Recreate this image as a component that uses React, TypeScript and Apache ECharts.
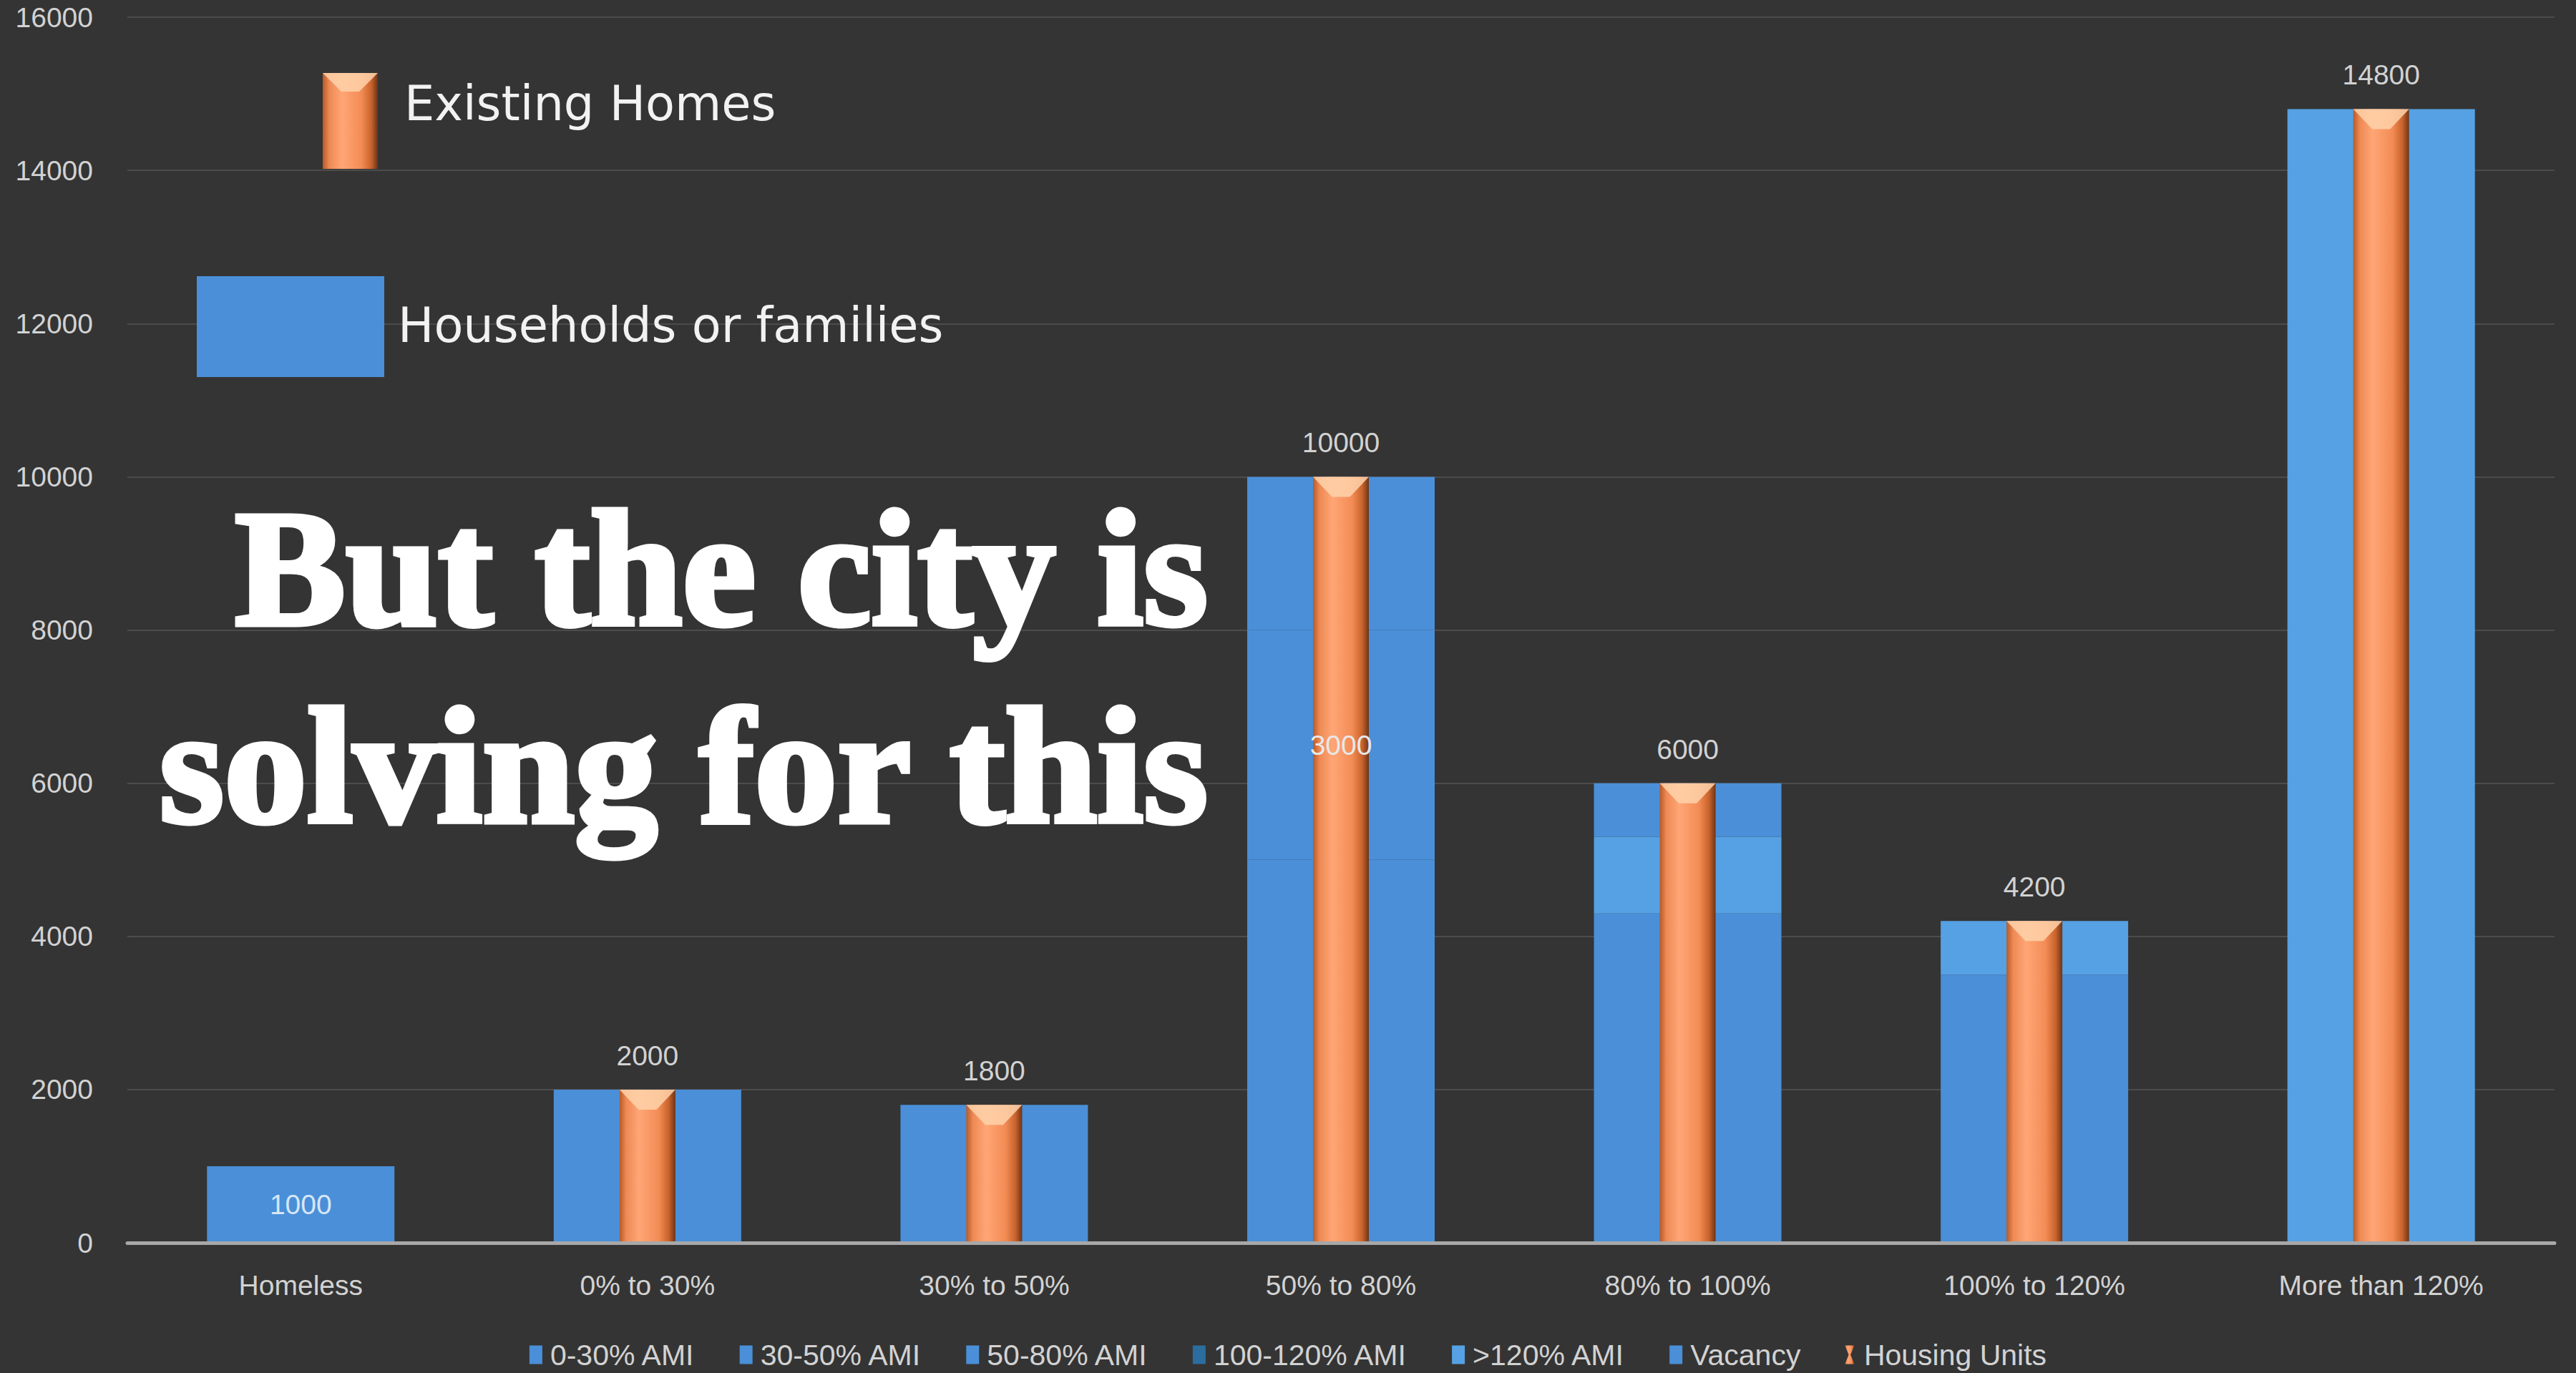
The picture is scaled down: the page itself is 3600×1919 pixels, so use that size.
import React, { useEffect, useRef } from "react";
import * as echarts from "echarts";

const categories = ["Homeless", "0% to 30%", "30% to 50%", "50% to 80%", "80% to 100%", "100% to 120%", "More than 120%"];
const ami0to30 = [1000, 2000, 1800, 5000, 4300, 3500, null];
const ami30to50 = [null, null, null, 3000, null, null, null];
const ami50to80 = [null, null, null, 2000, null, null, null];
const ami100to120 = [null, null, null, null, null, null, null];
const amiOver120 = [null, null, null, null, 1000, 700, 14800];
const vacancy = [null, null, null, null, 700, null, null];
const housingUnits = [null, 2000, 1800, 10000, 6000, 4200, 14800];
const yTicks = { min: 0, max: 16000, interval: 2000 };
const overlayLines = ["But the city is", "solving for this"];

const BG = "#343434";
const BLUE = "#4a8fd8";
const BLUE_LIGHT = "#56a1e3";
const TXT = "#d2d2d2";
const FONT = "'Liberation Sans', Arial, sans-serif";

const orangeGradient = () =>
  new echarts.graphic.LinearGradient(0, 0, 1, 0, [
    { offset: 0, color: "#b85a28" },
    { offset: 0.12, color: "#ee8a55" },
    { offset: 0.35, color: "#ffa676" },
    { offset: 0.7, color: "#f38c55" },
    { offset: 0.88, color: "#c9632c" },
    { offset: 1, color: "#6e3416" },
  ]);

export default function App() {
  const ref = useRef<HTMLDivElement>(null);
  useEffect(() => {
    document.body.style.margin = "0";
    document.body.style.background = BG;
    const chart = echarts.init(ref.current!, null, { renderer: "svg" });

    const blueSeries = (name: string, data: (number | null)[], color: string, labelIdx: number[] = []) => ({
      name,
      type: "bar",
      stack: "hh",
      xAxisIndex: 0,
      barWidth: 262,
      itemStyle: { color },
      data: data.map((v, i) =>
        labelIdx.includes(i) && v != null
          ? { value: v, label: { show: true, position: "inside", color: "#d6e6f6", fontSize: 39, fontFamily: FONT } }
          : v
      ),
    });

    // label for the 30-50% AMI segment, drawn above the orange bar
    const midIdx = ami30to50.findIndex((v) => v != null);
    const segBase = (ami0to30[midIdx] || 0);
    const segVal = ami30to50[midIdx] as number;

    const s30 = blueSeries("30-50% AMI", ami30to50, "#4a8fd8");
    (s30 as any).markPoint = {
      z: 10,
      symbol: "circle",
      symbolSize: 1,
      itemStyle: { color: "rgba(0,0,0,0)" },
      label: { show: true, position: "inside", color: "#e8e8e8", fontSize: 39, fontFamily: FONT, formatter: String(segVal) },
      data: [{ coord: [categories[midIdx], segBase + segVal / 2] }],
    };

    const option: any = {
      animation: false,
      backgroundColor: BG,
      grid: { left: 178, right: 30, top: 24, bottom: 182, containLabel: false },
      xAxis: [
        {
          type: "category",
          data: categories,
          axisLine: { show: true, lineStyle: { color: "#a8a8a8", width: 5 } },
          axisTick: { show: false },
          axisLabel: { color: TXT, fontSize: 39, fontFamily: FONT, margin: 40 },
          z: 5,
        },
        { type: "category", data: categories, show: false },
      ],
      yAxis: {
        type: "value",
        min: yTicks.min,
        max: yTicks.max,
        interval: yTicks.interval,
        axisLine: { show: false },
        axisTick: { show: false },
        axisLabel: { color: TXT, fontSize: 39, fontFamily: FONT, margin: 48, formatter: (v: number) => String(v) },
        splitLine: { lineStyle: { color: "#4c4c4c", width: 2 } },
      },
      legend: {
        bottom: 0,
        left: "center",
        itemWidth: 18,
        itemHeight: 26,
        itemGap: 62,
        textStyle: { color: TXT, fontSize: 41, fontFamily: FONT, padding: [0, 0, 0, 6] },
        data: [
          { name: "0-30% AMI", icon: "rect" },
          { name: "30-50% AMI", icon: "rect" },
          { name: "50-80% AMI", icon: "rect" },
          { name: "100-120% AMI", icon: "rect" },
          { name: ">120% AMI", icon: "rect" },
          { name: "Vacancy", icon: "rect" },
          { name: "Housing Units", icon: "path://M0,0 L10,0 L6,10 L10,20 L0,20 L4,10 Z" },
        ],
      },
      series: [
        blueSeries("0-30% AMI", ami0to30, BLUE, [0]),
        s30,
        blueSeries("50-80% AMI", ami50to80, "#4a8fd8"),
        blueSeries("100-120% AMI", ami100to120, "#2b6d9e"),
        blueSeries(">120% AMI", amiOver120, BLUE_LIGHT),
        blueSeries("Vacancy", vacancy, "#4a8fd8"),
        {
          name: "Housing Units",
          type: "bar",
          xAxisIndex: 1,
          barWidth: 78,
          z: 3,
          itemStyle: { color: orangeGradient() },
          label: { show: true, position: "top", distance: 28, color: TXT, fontSize: 39, fontFamily: FONT },
          data: housingUnits,
        },
        {
          name: "Housing Units",
          type: "pictorialBar",
          xAxisIndex: 1,
          z: 4,
          silent: true,
          symbol: "path://M0,0 L10,0 L6.6,6 L3.4,6 Z",
          symbolSize: [78, 28],
          symbolPosition: "end",
          symbolOffset: [0, 0],
          itemStyle: { color: "#ffd2aa", opacity: 0.85 },
          data: housingUnits,
        },
      ],
      graphic: [
        {
          type: "rect",
          z: 10,
          shape: { x: 451, y: 102, width: 77, height: 134 },
          style: { fill: orangeGradient() },
        },
        {
          type: "polygon",
          z: 11,
          shape: { points: [[451, 102], [528, 102], [502, 128], [477, 128]] },
          style: { fill: "#ffd2aa", opacity: 0.85 },
        },
        {
          type: "text",
          z: 10,
          x: 565,
          y: 145,
          style: { text: "Existing Homes", fill: "#f2f2f2", font: "67px 'DejaVu Sans', sans-serif", verticalAlign: "middle" },
        },
        {
          type: "rect",
          z: 10,
          shape: { x: 275, y: 386, width: 262, height: 141 },
          style: { fill: BLUE },
        },
        {
          type: "text",
          z: 10,
          x: 556,
          y: 455,
          style: { text: "Households or families", fill: "#f2f2f2", font: "67px 'DejaVu Sans', sans-serif", verticalAlign: "middle" },
        },
        ...overlayLines.map((t, i) => ({
          type: "text",
          x: 1688,
          y: 794 + i * 276,
          z: 100,
          style: {
            text: t,
            fill: "#ffffff",
            font: "bold 232px 'Liberation Serif', 'Times New Roman', serif",
            align: "right",
            verticalAlign: "middle",
            stroke: "#ffffff",
            lineWidth: 7,
          },
        })),
      ],
    };
    chart.setOption(option);
    return () => chart.dispose();
  }, []);
  return <div ref={ref} style={{ width: 3600, height: 1919 }} />;
}
